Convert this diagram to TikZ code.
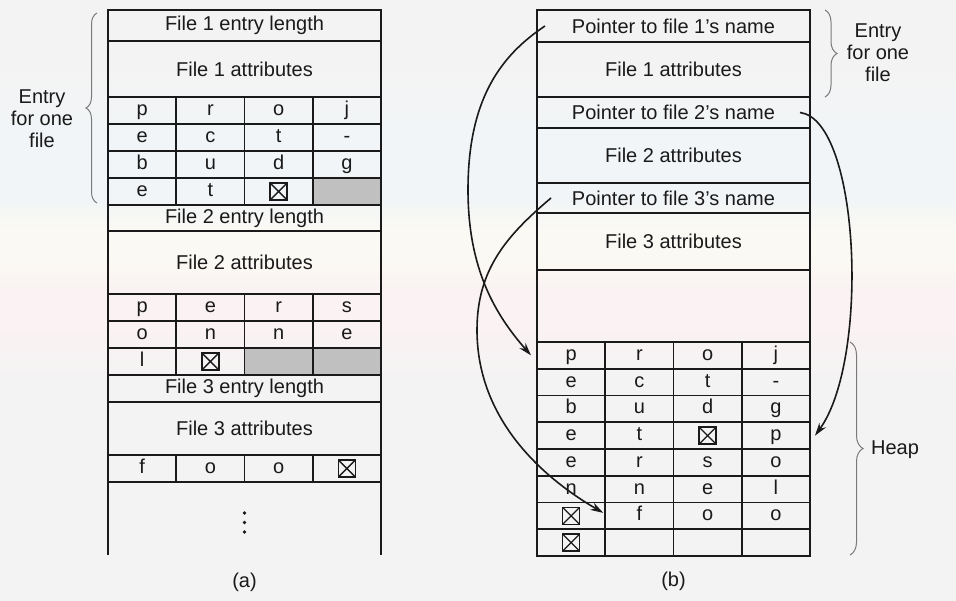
\documentclass[tikz,border=0pt]{standalone}
\usepackage{fontspec}
\setmainfont{Liberation Sans}
\usetikzlibrary{arrows.meta,decorations.pathreplacing}
\definecolor{bgc}{HTML}{F3F3F3}
\definecolor{bgblue}{HTML}{F2F5F7}
\definecolor{bgcream}{HTML}{FBF9F3}
\definecolor{bgpink}{HTML}{FAF2F3}
\definecolor{ink}{HTML}{1A1A1A}
\definecolor{shade}{HTML}{C0C0C0}
\definecolor{bracec}{HTML}{7A7A7A}
\pgfdeclareverticalshading{bgband}{100bp}{color(0bp)=(bgc); color(43bp)=(bgc); color(47.5bp)=(bgpink); color(50.8bp)=(bgpink);
  color(53.3bp)=(bgcream); color(55.8bp)=(bgcream); color(58.3bp)=(bgblue); color(64bp)=(bgblue); color(70bp)=(bgc); color(100bp)=(bgc)}

\begin{document}
\begin{tikzpicture}[x=1pt,y=-1pt]
\tikzset{every node/.style={font=\fontsize{20}{22}\selectfont, text=ink},
  box/.style={draw=ink, line width=1.6pt, inner sep=0pt, outer sep=0pt, minimum width=273pt, minimum height=#1},
  ch/.style={draw=ink, line width=1.6pt, inner sep=0pt, outer sep=0pt, minimum width=68.25pt, minimum height=#1, text height=14pt, text depth=4pt},
  ch/.default=27pt,
  greyed/.style={fill=shade, draw=ink, line width=1.6pt},
  nulbox/.style={draw=ink, line width=1.6pt, minimum size=17pt, inner sep=0pt,
    path picture={\draw[ink, line width=1.3pt] (path picture bounding box.north west) -- (path picture bounding box.south east)
      (path picture bounding box.south west) -- (path picture bounding box.north east);}},
  ptr/.style={draw=ink, line width=1.6pt, -{Stealth[length=13pt,width=8pt]}},
  curly/.style={draw=bracec, line width=1pt, decorate, decoration={brace, amplitude=#1}},
  note/.style={align=center}}
\useasboundingbox (0,0) rectangle (956,600);
\shade[shading=bgband] (0,0) rectangle (956,600);

% (a)
\node[box=31pt] (alen1) at (244.5,25.5) {File 1 entry length};
\node[box=56pt] (aattr1) at (244.5,69) {File 1 attributes};
\foreach \r/\y/\la/\lb/\lc/\ld in {1/110.5/p/r/o/j, 2/137.5/e/c/t/-, 3/164.5/b/u/d/g, 4/191.5/e/t/{}/{}}
  \foreach \t [count=\c] in {\la,\lb,\lc,\ld}
    \node[ch] (a1-\r-\c) at ({108+68.25*(\c-0.5)},\y) {\t};
\filldraw[greyed] (a1-4-4.south west) rectangle (a1-4-4.north east);
\node[nulbox] (anul1) at (a1-4-3) {};
\node[box=26pt] (alen2) at (244.5,218) {File 2 entry length};
\node[box=63pt] (aattr2) at (244.5,262.5) {File 2 attributes};
\foreach \r/\y/\la/\lb/\lc/\ld in {1/307.5/p/e/r/s, 2/334.5/o/n/n/e, 3/361.5/l/{}/{}/{}}
  \foreach \t [count=\c] in {\la,\lb,\lc,\ld}
    \node[ch] (a2-\r-\c) at ({108+68.25*(\c-0.5)},\y) {\t};
\filldraw[greyed] (a2-3-3.south west) rectangle (a2-3-4.north east);
\draw[ink, line width=1.6pt] (a2-3-3.north east) -- (a2-3-3.south east);
\node[nulbox] (anul2) at (a2-3-2) {};
\node[box=27pt] (alen3) at (244.5,388.5) {File 3 entry length};
\node[box=53pt] (aattr3) at (244.5,428.5) {File 3 attributes};
\foreach \t [count=\c] in {f,o,o,{}}
  \node[ch] (a3-1-\c) at ({108+68.25*(\c-0.5)},468.5) {\t};
\node[nulbox] (anul3) at (a3-1-4) {};
\draw[ink, line width=1.6pt] (a3-1-1.south west) -- ++(0,73) (a3-1-4.south east) -- ++(0,73);
\foreach \y in {513,522.5,532}
  \fill[ink] (244.5,\y) circle (1.8);
\node (acap) at (244.5,582) {(a)};
\node[note] (aentry) at (42,119) {Entry\\for one\\file};
\draw[curly=11pt] ([xshift=-11pt,yshift=2pt]a1-4-1.south west) -- ([xshift=-11pt,yshift=-3pt]alen1.north west);

% (b)
\node[box=32pt] (ptr1) at (673.5,26) {Pointer to file 1's name};
\node[box=55pt] (battr1) at (673.5,69.5) {File 1 attributes};
\node[box=31pt] (ptr2) at (673.5,112.5) {Pointer to file 2's name};
\node[box=55pt] (battr2) at (673.5,155.5) {File 2 attributes};
\node[box=30pt] (ptr3) at (673.5,198) {Pointer to file 3's name};
\node[box=57pt] (battr3) at (673.5,241.5) {File 3 attributes};
\node[box=72pt] (bfree) at (673.5,306) {};
\foreach \r/\la/\lb/\lc/\ld in {1/p/r/o/j, 2/e/c/t/-, 3/b/u/d/g, 4/e/t/{}/p, 5/e/r/s/o, 6/n/n/e/l, 7/{}/f/o/o, 8/{}/{}/{}/{}}
  \foreach \t [count=\c] in {\la,\lb,\lc,\ld}
    \node[ch=26.75pt] (h-\r-\c) at ({537+68.25*(\c-0.5)},{342+26.75*(\r-0.5)}) {\t};
\node[nulbox] (hnul1) at (h-4-3) {};
\node[nulbox] (hnul2) at (h-7-1) {};
\node[nulbox] (hnul3) at (h-8-1) {};
\node (bcap) at (673.5,581) {(b)};
\draw[curly=12pt] ([xshift=15pt]ptr1.north east) -- ([xshift=15pt]battr1.south east);
\node[note] (bentry) at (878,53) {Entry\\for one\\file};
\draw[curly=13pt] ([xshift=40pt]h-1-4.north east) -- ([xshift=40pt,yshift=1pt]h-8-4.south east);
\node (heap) at (895,450) {Heap};

\coordinate (bend1) at (468,190);
\coordinate (bend3) at (477,330);
\draw[ptr] ([xshift=8pt]ptr1.west) .. controls +(-45,30) and +(0,-90) .. (bend1)
  .. controls +(0,80) and +(-35,-40) .. ([xshift=-6pt]h-1-1.west);
\draw[ptr] ([xshift=-10pt]ptr2.east) .. controls +(60,7.5) and +(55,-76) .. ([xshift=5pt]h-4-4.east);
\draw[ptr] ([xshift=14pt]ptr3.west) .. controls +(-45,38) and +(0,-60) .. (bend3)
  .. controls +(0,90) and +(-60,-35) .. ([xshift=-2pt,yshift=3pt]h-7-2.west);
\end{tikzpicture}
\end{document}
